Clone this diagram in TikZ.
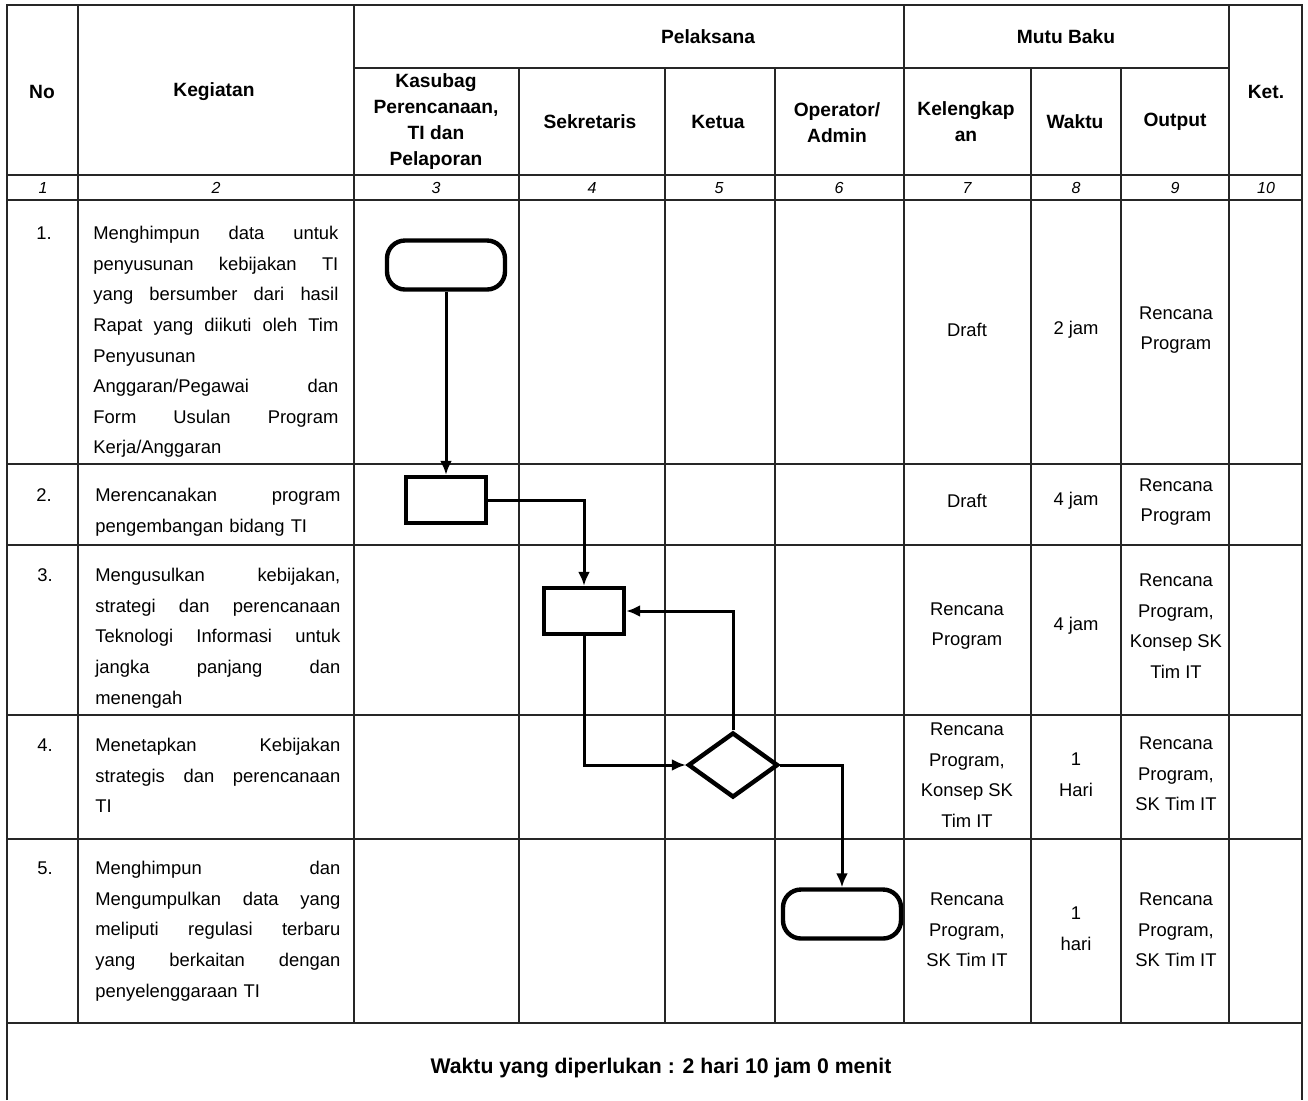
\documentclass[tikz,border=0pt]{standalone}
\usepackage{fontspec}
\setmainfont{Liberation Sans}
\usetikzlibrary{shapes.geometric,arrows.meta}

\newcommand\bodyfnt{\fontsize{9.2}{15.3}\selectfont}
\newcommand\headfnt{\fontsize{9.6}{13}\selectfont\bfseries}
\newcommand\numfnt{\fontsize{8}{9}\selectfont\itshape}
\newcommand\footfnt{\fontsize{10.6}{12}\selectfont\bfseries}

\tikzset{
	tabline/.style={line width=0.9pt, black!85},
	term/.style={draw, fill=white, line width=2.2pt, rounded corners=9pt,
		minimum width=59pt, minimum height=24.5pt},
	proc/.style={draw, fill=white, line width=2.2pt,
		minimum width=40pt, minimum height=23pt},
	dec/.style={draw, diamond, fill=white, line width=2.2pt,
		minimum width=45pt, minimum height=32.5pt},
	flow/.style={->, line width=1.5pt},
	hd/.style={font=\headfnt, align=center, inner sep=0pt},
	cell/.style={font=\bodyfnt, align=center, inner sep=0pt},
	keg/.style={font=\bodyfnt, anchor=north west, text width=122.5pt,
		align=left, inner sep=0pt},
	nr/.style={font=\bodyfnt, anchor=north, inner sep=0pt}
}

\begin{document}
\begin{tikzpicture}[x=0.5pt,y=-0.5pt,>={Latex[length=7pt,width=6pt]}]
	\useasboundingbox (0,0) rectangle (1308,1100);

	% frame and rows
	\draw [tabline] (7,1100) -- (7,5) -- (1302,5) -- (1302,1100);
	\draw [tabline] (354,68) -- (1229,68);
	\draw [tabline] (7,175) -- (1302,175);
	\draw [tabline] (7,200) -- (1302,200);
	\draw [tabline] (7,464) -- (1302,464);
	\draw [tabline] (7,545) -- (1302,545);
	\draw [tabline] (7,715) -- (1302,715);
	\draw [tabline] (7,839) -- (1302,839);
	\draw [tabline] (7,1023) -- (1302,1023);

	% columns
	\draw [tabline] (78,5) -- (78,1023);
	\draw [tabline] (354,5) -- (354,1023);
	\draw [tabline] (519,68) -- (519,1023);
	\draw [tabline] (665,68) -- (665,1023);
	\draw [tabline] (775,68) -- (775,1023);
	\draw [tabline] (904,5) -- (904,1023);
	\draw [tabline] (1031,68) -- (1031,1023);
	\draw [tabline] (1121,68) -- (1121,1023);
	\draw [tabline] (1229,5) -- (1229,1023);

	% header
	\node (hNo) [hd] at (42,92) {No};
	\node (hKeg) [hd] at (214,92) {Kegiatan};
	\node (hPel) [hd] at (708,37) {Pelaksana};
	\node (hMutu) [hd] at (1066,37) {Mutu Baku};
	\node (hKet) [hd] at (1266,92) {Ket.};
	\node (hKasubag) [hd] at (436,122) {Kasubag\\Perencanaan,\\TI dan\\Pelaporan};
	\node (hSekr) [hd] at (590,122) {Sekretaris};
	\node (hKetua) [hd] at (718,122) {Ketua};
	\node (hOper) [hd] at (837,123) {Operator/\\Admin};
	\node (hLengkap) [hd] at (966,122) {Kelengkap\\an};
	\node (hWaktu) [hd] at (1075,122) {Waktu};
	\node (hOutput) [hd] at (1175,122) {Output};

	\foreach \x/\n in {43/1, 216/2, 436/3, 592/4, 719/5, 839/6, 967/7, 1076/8, 1175/9, 1266/10}
		\node (col\n) [font=\numfnt, inner sep=0pt] at (\x,188) {\n};

	% activities
	\node (no1) [nr] at (44,226) {1.};
	\node (keg1) [keg] at (93,226) {Menghimpun\hfill data\hfill untuk\\
		penyusunan\hfill kebijakan\hfill TI\\
		yang\hfill bersumber\hfill dari\hfill hasil\\
		Rapat\hfill yang\hfill diikuti\hfill oleh\hfill Tim\\
		Penyusunan\\
		Anggaran/Pegawai\hfill dan\\
		Form\hfill Usulan\hfill Program\\
		Kerja/Anggaran};
	\node (no2) [nr] at (44,488) {2.};
	\node (keg2) [keg] at (95,488) {Merencanakan\hfill program\\
		pengembangan bidang TI};
	\node (no3) [nr] at (45,568) {3.};
	\node (keg3) [keg] at (95,568) {Mengusulkan\hfill kebijakan,\\
		strategi\hfill dan\hfill perencanaan\\
		Teknologi\hfill Informasi\hfill untuk\\
		jangka\hfill panjang\hfill dan\\
		menengah};
	\node (no4) [nr] at (45,738) {4.};
	\node (keg4) [keg] at (95,738) {Menetapkan\hfill Kebijakan\\
		strategis\hfill dan\hfill perencanaan\\
		TI};
	\node (no5) [nr] at (45,861) {5.};
	\node (keg5) [keg] at (95,861) {Menghimpun\hfill dan\\
		Mengumpulkan\hfill data\hfill yang\\
		meliputi\hfill regulasi\hfill terbaru\\
		yang\hfill berkaitan\hfill dengan\\
		penyelenggaraan TI};

	% mutu baku
	\node (lengkap1) [cell] at (967,330) {Draft};
	\node (waktu1) [cell] at (1076,330) {2 jam};
	\node (out1) [cell] at (1176,330) {Rencana\\Program};
	\node (lengkap2) [cell] at (967,501) {Draft};
	\node (waktu2) [cell] at (1076,501) {4 jam};
	\node (out2) [cell] at (1176,502) {Rencana\\Program};
	\node (lengkap3) [cell] at (967,626) {Rencana\\Program};
	\node (waktu3) [cell] at (1076,626) {4 jam};
	\node (out3) [cell] at (1176,626) {Rencana\\Program,\\Konsep SK\\Tim IT};
	\node (lengkap4) [cell] at (967,775) {Rencana\\Program,\\Konsep SK\\Tim IT};
	\node (waktu4) [cell] at (1076,775) {1\\Hari};
	\node (out4) [cell] at (1176,774) {Rencana\\Program,\\SK Tim IT};
	\node (lengkap5) [cell] at (967,930) {Rencana\\Program,\\SK Tim IT};
	\node (waktu5) [cell] at (1076,929) {1\\hari};
	\node (out5) [cell] at (1176,930) {Rencana\\Program,\\SK Tim IT};

	\node (total) [font=\footfnt, inner sep=0pt] at (661,1068)
		{Waktu yang diperlukan : 2 hari 10 jam 0 menit};

	% flow
	\node (term1) [term] at (446,265) {};
	\node (proc2) [proc] at (446,500) {};
	\node (proc3) [proc] at (584,611) {};
	\node (dec4) [dec] at (733,765) {};
	\node (term5) [term] at (842,914) {};

	\draw [flow] (term1) -- (proc2);
	\draw [flow] (proc2.east) -| (proc3.north);
	\draw [flow] (proc3.south) |- (dec4.west);
	\draw [flow] (dec4.north) |- (proc3.east);
	\draw [flow] (dec4.east) -| (term5.north);
\end{tikzpicture}
\end{document}
